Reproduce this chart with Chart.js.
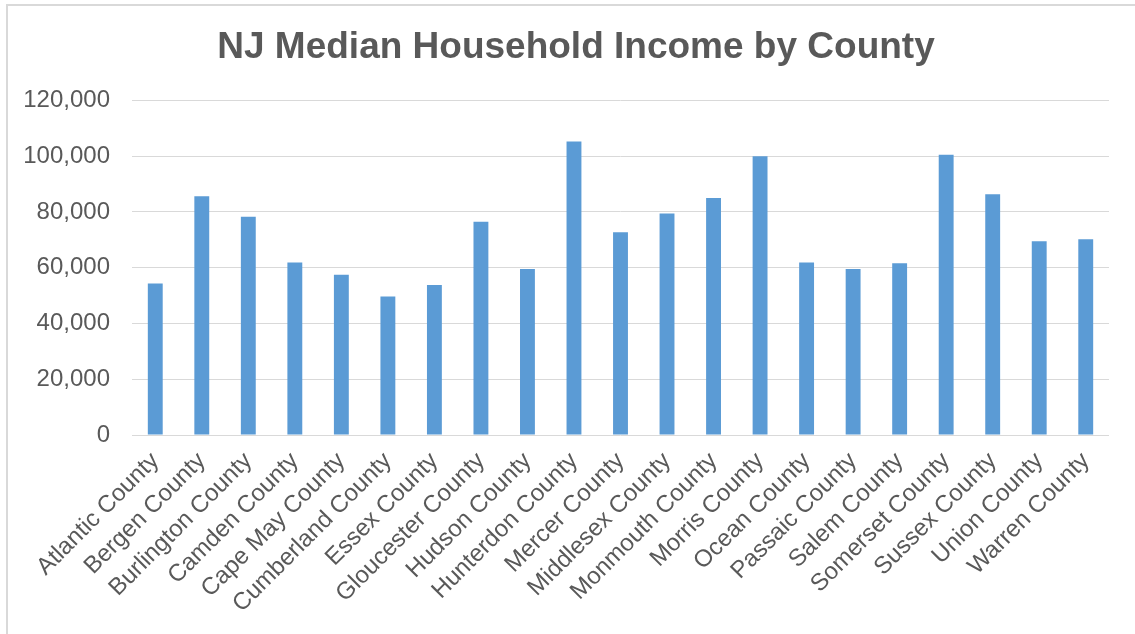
<!DOCTYPE html>
<html>
<head>
<meta charset="utf-8">
<title>NJ Median Household Income by County</title>
<script src="https://cdn.jsdelivr.net/npm/chart.js@4.4.1/dist/chart.umd.min.js"></script>
<style>
  html, body { margin: 0; padding: 0; background: #fff; }
  #wrap {
    position: relative;
    width: 1135px;
    height: 634px;
    overflow: hidden;
  }
  /* light frame like the Excel chart area */
  #frame {
    position: absolute;
    left: 6px;
    top: 4px;
    width: 1200px;
    height: 700px;
    border-left: 2px solid #d9d9d9;
    border-top: 2px solid #d9d9d9;
    pointer-events: none;
  }
</style>
</head>
<body>
<div id="wrap">
  <canvas id="chart" width="1135" height="634"></canvas>
  <div id="frame"></div>
</div>
<script>
/***********************
 * DATA
 ***********************/
const counties = [
  "Atlantic County", "Bergen County", "Burlington County", "Camden County",
  "Cape May County", "Cumberland County", "Essex County", "Gloucester County",
  "Hudson County", "Hunterdon County", "Mercer County", "Middlesex County",
  "Monmouth County", "Morris County", "Ocean County", "Passaic County",
  "Salem County", "Somerset County", "Sussex County", "Union County",
  "Warren County"
];

const medianIncome = [
  54300, 85600, 78300, 61900,
  57500, 49700, 53800, 76500,
  59500, 105300, 72700, 79400,
  85000, 100000, 61900, 59500,
  61600, 100500, 86300, 69500,
  70200
];

const yMin = 0;
const yMax = 120000;
const yStep = 20000;

/***********************
 * STYLE
 ***********************/
const FONT = "'Liberation Sans', Arial, sans-serif";
const TEXT = "#595959";
const GRID = "#d9d9d9";
const BAR = "#5b9bd5";

/***********************
 * CHART
 ***********************/
function fmt(v) {
  return Number(v).toLocaleString("en-US");
}

new Chart(document.getElementById("chart"), {
  type: "bar",
  data: {
    labels: counties,
    datasets: [{
      label: "Median Household Income",
      data: medianIncome,
      backgroundColor: BAR,
      borderWidth: 0,
      barPercentage: 0.32,
      categoryPercentage: 1.0,
    }],
  },
  options: {
    responsive: false,
    animation: false,
    // left/right padding keeps the title centred where Excel put it
    layout: { padding: { left: 17, right: 0, top: 0, bottom: 0 } },
    plugins: {
      legend: { display: false },
      tooltip: { enabled: false },
      title: {
        display: true,
        text: "NJ Median Household Income by County",
        color: TEXT,
        font: { family: FONT, size: 37, weight: "bold" },
        padding: { top: 26, bottom: 30 },
      },
    },
    scales: {
      y: {
        min: yMin,
        max: yMax,
        ticks: {
          stepSize: yStep,
          color: TEXT,
          font: { family: FONT, size: 24 },
          padding: 22,
          callback: (v) => fmt(v),
        },
        grid: { color: GRID, lineWidth: 1, drawTicks: false },
        border: { display: false },
        afterFit: (s) => { s.width = 115; },
      },
      // empty axis on the right, only takes up space
      yRight: {
        position: "right",
        display: true,
        ticks: { display: false },
        grid: { display: false, drawTicks: false },
        border: { display: false },
        afterFit: (s) => { s.width = 26; },
      },
      x: {
        ticks: {
          color: TEXT,
          font: { family: FONT, size: 24 },
          minRotation: 45,
          maxRotation: 45,
          autoSkip: false,
          padding: 12,
        },
        grid: { display: false, drawTicks: false },
        border: { display: false },
        afterFit: (s) => { s.height = 199; },
      },
    },
  },
});
</script>
</body>
</html>
